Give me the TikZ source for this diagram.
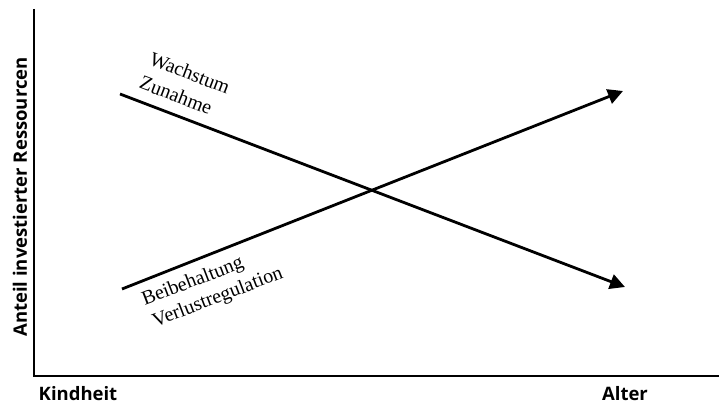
\documentclass[tikz,border=0pt]{standalone}
\usepackage{fontspec}
\setmainfont{Liberation Serif}
\newfontfamily\axisfont{Open Sans}
\usetikzlibrary{arrows.meta}

\begin{document}
\begin{tikzpicture}[
        x=1pt,y=-1pt,
        >={Triangle[length=15pt,width=15pt]},
        axis/.style={line width=1.8pt},
        trend/.style={->,line width=2.8pt},
        axislabel/.style={font=\axisfont\bfseries\fontsize{18.5}{21}\selectfont,inner sep=0pt},
        curvelabel/.style={font=\fontsize{20}{23}\selectfont,inner sep=0pt}
    ]
        \useasboundingbox (0,0) rectangle (719,409);

        % axes
        \coordinate (origin) at (34,376);
        \coordinate (ytop) at (34,9);
        \coordinate (xend) at (719,376);
        \draw[axis] (ytop) -- (origin) -- (xend);

        \node[axislabel,rotate=90] (ylab) at (20,197) {Anteil investierter Ressourcen};
        \node[axislabel] (kind) at (78,394) {Kindheit};
        \node[axislabel] (alter) at (625,394) {Alter};

        % trends
        \coordinate (wstart) at (120,94);
        \coordinate (wend) at (625,287);
        \coordinate (bstart) at (122,289);
        \coordinate (bend) at (623,91);
        \draw[trend] (wstart) -- (wend);
        \draw[trend] (bstart) -- (bend);

        \node[curvelabel,rotate=-21] (wachs) at (190,73) {Wachstum};
        \node[curvelabel,rotate=-21] (zun) at (176,95) {Zunahme};
        \node[curvelabel,rotate=21] (beib) at (193,282) {Beibehaltung};
        \node[curvelabel,rotate=21] (verl) at (218,298) {Verlustregulation};
    \end{tikzpicture}
\end{document}
